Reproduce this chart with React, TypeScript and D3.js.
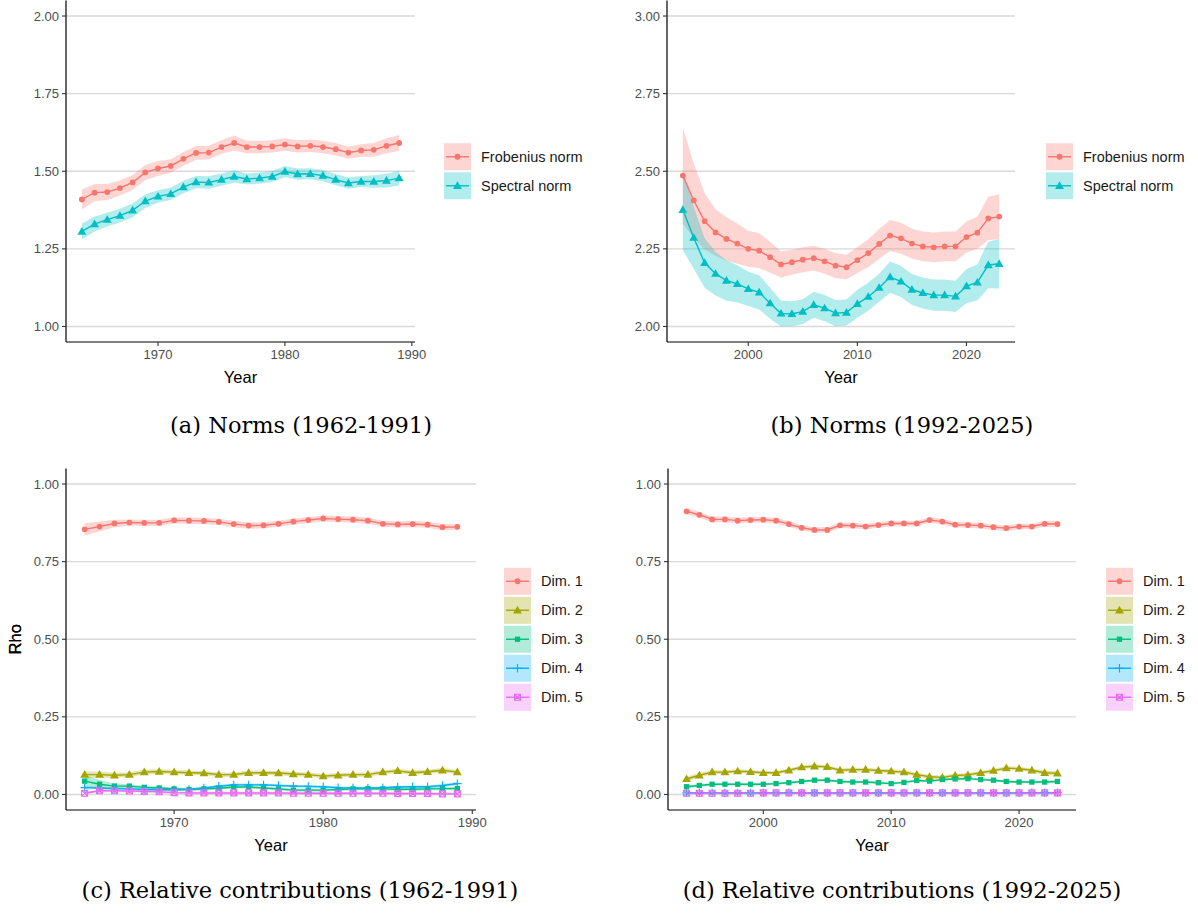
import React from "react";
import * as d3 from "d3";

// ---------- data ----------
const yearsEarly = d3.range(1964, 1990);
const yearsLate = d3.range(1994, 2024);

const frobeniusEarly = [1.409, 1.431, 1.433, 1.446, 1.464, 1.496, 1.509, 1.517, 1.540, 1.559, 1.560, 1.578, 1.591, 1.578, 1.578, 1.580, 1.586, 1.580, 1.582, 1.578, 1.571, 1.560, 1.567, 1.569, 1.582, 1.591];
const frobeniusEarlyBand = [0.032, 0.028, 0.026, 0.024, 0.024, 0.024, 0.024, 0.022, 0.022, 0.022, 0.022, 0.022, 0.024, 0.020, 0.020, 0.020, 0.020, 0.020, 0.020, 0.020, 0.020, 0.020, 0.020, 0.022, 0.024, 0.026];
const spectralEarly = [1.306, 1.330, 1.344, 1.357, 1.374, 1.404, 1.419, 1.427, 1.449, 1.465, 1.464, 1.473, 1.483, 1.475, 1.478, 1.483, 1.499, 1.491, 1.492, 1.486, 1.473, 1.462, 1.467, 1.467, 1.470, 1.478];
const spectralEarlyBand = [0.026, 0.024, 0.022, 0.022, 0.022, 0.022, 0.020, 0.020, 0.020, 0.020, 0.020, 0.020, 0.020, 0.018, 0.018, 0.018, 0.018, 0.018, 0.018, 0.018, 0.018, 0.018, 0.018, 0.020, 0.022, 0.024];

const frobeniusLate = [2.486, 2.406, 2.339, 2.303, 2.282, 2.267, 2.250, 2.244, 2.223, 2.200, 2.207, 2.215, 2.220, 2.210, 2.196, 2.191, 2.214, 2.236, 2.266, 2.293, 2.284, 2.267, 2.258, 2.255, 2.258, 2.258, 2.288, 2.302, 2.348, 2.354];
const frobeniusLateBand = [0.155, 0.12, 0.09, 0.075, 0.07, 0.065, 0.058, 0.056, 0.05, 0.042, 0.04, 0.04, 0.04, 0.04, 0.04, 0.04, 0.042, 0.045, 0.048, 0.05, 0.05, 0.048, 0.048, 0.048, 0.048, 0.048, 0.05, 0.052, 0.07, 0.072];
const spectralLate = [2.376, 2.286, 2.205, 2.170, 2.148, 2.137, 2.121, 2.110, 2.075, 2.042, 2.041, 2.048, 2.070, 2.059, 2.043, 2.045, 2.073, 2.096, 2.125, 2.159, 2.145, 2.119, 2.108, 2.101, 2.101, 2.097, 2.130, 2.142, 2.198, 2.202];
const spectralLateBand = [0.13, 0.1, 0.08, 0.07, 0.065, 0.06, 0.055, 0.055, 0.05, 0.042, 0.04, 0.04, 0.042, 0.042, 0.042, 0.042, 0.045, 0.045, 0.045, 0.05, 0.05, 0.05, 0.05, 0.05, 0.05, 0.05, 0.055, 0.058, 0.075, 0.08];

const dim1Early = [0.854, 0.863, 0.873, 0.876, 0.875, 0.875, 0.883, 0.882, 0.881, 0.878, 0.871, 0.866, 0.867, 0.872, 0.879, 0.884, 0.889, 0.887, 0.885, 0.882, 0.872, 0.870, 0.871, 0.869, 0.861, 0.862];
const dim2Early = [0.064, 0.064, 0.062, 0.064, 0.072, 0.074, 0.072, 0.070, 0.069, 0.064, 0.064, 0.070, 0.070, 0.069, 0.066, 0.064, 0.059, 0.062, 0.064, 0.064, 0.072, 0.076, 0.070, 0.073, 0.078, 0.072];
const dim3Early = [0.043, 0.033, 0.027, 0.027, 0.023, 0.021, 0.018, 0.016, 0.018, 0.020, 0.024, 0.024, 0.021, 0.018, 0.014, 0.014, 0.014, 0.016, 0.018, 0.019, 0.018, 0.017, 0.017, 0.018, 0.019, 0.019];
const dim4Early = [0.022, 0.021, 0.019, 0.018, 0.016, 0.015, 0.015, 0.016, 0.021, 0.027, 0.031, 0.031, 0.031, 0.029, 0.027, 0.026, 0.025, 0.022, 0.021, 0.020, 0.022, 0.024, 0.025, 0.025, 0.029, 0.035];
const dim5Early = [0.004, 0.012, 0.012, 0.011, 0.010, 0.009, 0.006, 0.005, 0.005, 0.005, 0.005, 0.005, 0.005, 0.005, 0.004, 0.004, 0.004, 0.004, 0.004, 0.004, 0.004, 0.003, 0.003, 0.003, 0.002, 0.002];
const dim1EarlyBand = [0.02, 0.016, 0.012, 0.01, 0.01, 0.01, 0.01, 0.01, 0.01, 0.01, 0.01, 0.01, 0.01, 0.01, 0.01, 0.01, 0.01, 0.01, 0.01, 0.01, 0.01, 0.01, 0.01, 0.01, 0.01, 0.01];
const dim2EarlyBand = [0.01, 0.01, 0.008, 0.008, 0.008, 0.008, 0.007, 0.007, 0.007, 0.007, 0.007, 0.007, 0.007, 0.007, 0.007, 0.007, 0.007, 0.007, 0.007, 0.007, 0.007, 0.007, 0.007, 0.007, 0.007, 0.007];
const dim3EarlyBand = [0.02, 0.014, 0.008, 0.006, 0.005, 0.005, 0.005, 0.005, 0.005, 0.005, 0.005, 0.005, 0.005, 0.005, 0.005, 0.005, 0.005, 0.005, 0.005, 0.005, 0.005, 0.005, 0.005, 0.005, 0.005, 0.005];
const dim4EarlyBand = [0.005, 0.004, 0.004, 0.004, 0.004, 0.004, 0.004, 0.004, 0.004, 0.004, 0.004, 0.004, 0.004, 0.004, 0.004, 0.004, 0.004, 0.004, 0.004, 0.004, 0.004, 0.004, 0.004, 0.004, 0.005, 0.006];
const dim5EarlyBand = [0.004, 0.004, 0.004, 0.004, 0.004, 0.004, 0.004, 0.004, 0.004, 0.004, 0.004, 0.004, 0.004, 0.004, 0.004, 0.004, 0.004, 0.004, 0.004, 0.004, 0.004, 0.004, 0.004, 0.004, 0.004, 0.004];

const dim1Late = [0.912, 0.901, 0.886, 0.886, 0.882, 0.884, 0.885, 0.882, 0.871, 0.859, 0.852, 0.852, 0.867, 0.866, 0.863, 0.868, 0.873, 0.873, 0.873, 0.884, 0.879, 0.869, 0.868, 0.866, 0.861, 0.858, 0.863, 0.863, 0.872, 0.871];
const dim2Late = [0.050, 0.062, 0.072, 0.072, 0.075, 0.073, 0.070, 0.070, 0.078, 0.088, 0.091, 0.089, 0.078, 0.080, 0.080, 0.077, 0.075, 0.072, 0.064, 0.057, 0.055, 0.061, 0.063, 0.070, 0.077, 0.085, 0.083, 0.078, 0.070, 0.068];
const dim3Late = [0.025, 0.029, 0.033, 0.033, 0.033, 0.033, 0.033, 0.035, 0.038, 0.042, 0.046, 0.046, 0.042, 0.040, 0.040, 0.038, 0.035, 0.039, 0.045, 0.043, 0.048, 0.050, 0.051, 0.048, 0.046, 0.042, 0.040, 0.040, 0.040, 0.042];
const dim4Late = [0.005, 0.005, 0.005, 0.005, 0.005, 0.005, 0.005, 0.005, 0.006, 0.005, 0.005, 0.005, 0.005, 0.005, 0.005, 0.005, 0.005, 0.005, 0.005, 0.005, 0.005, 0.005, 0.005, 0.005, 0.005, 0.005, 0.005, 0.006, 0.006, 0.006];
const dim5Late = [0.004, 0.004, 0.004, 0.004, 0.004, 0.004, 0.005, 0.005, 0.005, 0.005, 0.005, 0.005, 0.005, 0.005, 0.005, 0.005, 0.005, 0.005, 0.005, 0.005, 0.005, 0.005, 0.005, 0.005, 0.005, 0.005, 0.005, 0.005, 0.005, 0.005];
const dim1LateBand = [0.01, 0.01, 0.009, 0.009, 0.009, 0.009, 0.009, 0.009, 0.009, 0.009, 0.009, 0.009, 0.009, 0.009, 0.009, 0.009, 0.009, 0.009, 0.009, 0.009, 0.009, 0.009, 0.009, 0.009, 0.009, 0.009, 0.009, 0.009, 0.01, 0.01];
const dim2LateBand = [0.007, 0.007, 0.006, 0.006, 0.006, 0.006, 0.006, 0.006, 0.006, 0.006, 0.006, 0.006, 0.006, 0.006, 0.006, 0.006, 0.006, 0.006, 0.006, 0.006, 0.006, 0.006, 0.006, 0.006, 0.006, 0.006, 0.006, 0.006, 0.007, 0.007];
const dim3LateBand = [0.005, 0.005, 0.004, 0.004, 0.004, 0.004, 0.004, 0.004, 0.004, 0.004, 0.004, 0.004, 0.004, 0.004, 0.004, 0.004, 0.004, 0.004, 0.004, 0.004, 0.004, 0.004, 0.004, 0.004, 0.004, 0.004, 0.004, 0.004, 0.005, 0.005];
const dim4LateBand = [0.003, 0.003, 0.003, 0.003, 0.003, 0.003, 0.003, 0.003, 0.003, 0.003, 0.003, 0.003, 0.003, 0.003, 0.003, 0.003, 0.003, 0.003, 0.003, 0.003, 0.003, 0.003, 0.003, 0.003, 0.003, 0.003, 0.003, 0.003, 0.003, 0.003];
const dim5LateBand = dim4LateBand;

const normLabels = ["Frobenius norm", "Spectral norm"];
const dimLabels = ["Dim. 1", "Dim. 2", "Dim. 3", "Dim. 4", "Dim. 5"];
const normColors = ["#F8766D", "#00BFC4"];
const dimColors = ["#F8766D", "#A3A500", "#00BF7D", "#00B0F6", "#E76BF3"];
const normShapes = ["circle", "triangle"];
const dimShapes = ["circle", "triangle", "square", "plus", "squarex"];

const normTicksEarly = [1.0, 1.25, 1.5, 1.75, 2.0];
const normTicksLate = [2.0, 2.25, 2.5, 2.75, 3.0];
const rhoTicks = [0, 0.25, 0.5, 0.75, 1.0];
const yearTicksEarly = [1970, 1980, 1990];
const yearTicksLate = [2000, 2010, 2020];

const SANS = "Liberation Sans, Arial, sans-serif";
const SERIF = "DejaVu Serif, serif";

type Series = { label: string; color: string; shape: string; values: number[]; band: number[] };

function Marker({ shape, color, x, y }: { shape: string; color: string; x: number; y: number }) {
  const t = `translate(${x},${y})`;
  if (shape === "circle") {
    return <path transform={t} d={d3.symbol(d3.symbolCircle, 26)()!} fill={color} />;
  }
  if (shape === "triangle") {
    return <path transform={`translate(${x},${y + 0.6})`} d={d3.symbol(d3.symbolTriangle, 34)()!} fill={color} />;
  }
  if (shape === "square") {
    return <path transform={t} d={d3.symbol(d3.symbolSquare, 28)()!} fill={color} />;
  }
  if (shape === "plus") {
    return <path transform={t} d="M-4.2,0H4.2M0,-4.2V4.2" stroke={color} strokeWidth={1.1} fill="none" />;
  }
  // open square with a cross inside
  return <path transform={t} d="M-3,-3H3V3H-3Z M-3,-3L3,3 M3,-3L-3,3" stroke={color} strokeWidth={1.1} fill="none" />;
}

type PanelProps = {
  left: number; right: number; top: number; bottom: number;
  years: number[]; series: Series[];
  yDomain: [number, number]; yTicks: number[]; yFormat: (v: number) => string;
  xTicks: number[]; yLabel?: string;
  legendX: number; caption: string; captionX: number; captionY: number;
};

function Panel(p: PanelProps) {
  const x0 = p.years[0], x1 = p.years[p.years.length - 1];
  const xPad = (x1 - x0) * 0.05;
  const yPad = (p.yDomain[1] - p.yDomain[0]) * 0.05;
  const x = d3.scaleLinear().domain([x0 - xPad, x1 + xPad]).range([p.left, p.right]);
  const y = d3.scaleLinear().domain([p.yDomain[0] - yPad, p.yDomain[1] + yPad]).range([p.bottom, p.top]);

  const area = d3.area<number>()
    .x((_, i) => x(p.years[i]));
  const line = d3.line<number>().x((_, i) => x(p.years[i])).y((v) => y(v));

  const keySize = 27, keyGap = 2;
  const legendH = p.series.length * keySize + (p.series.length - 1) * keyGap;
  const legendTop = (p.top + p.bottom) / 2 - legendH / 2;

  return (
    <g>
      {/* horizontal grid */}
      {p.yTicks.map((t) => (
        <line key={"g" + t} x1={p.left} x2={p.right} y1={y(t)} y2={y(t)} stroke="#d9d9d9" strokeWidth={1.3} />
      ))}
      {/* ribbons */}
      {p.series.map((s) => (
        <path key={"r" + s.label}
          d={area.y0((v, i) => y(v - s.band[i])).y1((v, i) => y(v + s.band[i]))(s.values)!}
          fill={s.color} fillOpacity={0.3} stroke="none" />
      ))}
      {/* lines */}
      {p.series.map((s) => (
        <path key={"l" + s.label} d={line(s.values)!} fill="none" stroke={s.color} strokeWidth={1.4} />
      ))}
      {/* points */}
      {p.series.map((s) => (
        <g key={"p" + s.label}>
          {s.values.map((v, i) => (
            <Marker key={i} shape={s.shape} color={s.color} x={x(p.years[i])} y={y(v)} />
          ))}
        </g>
      ))}
      {/* axes */}
      <line x1={p.left} x2={p.left} y1={p.top} y2={p.bottom} stroke="#000" strokeWidth={1.2} />
      <line x1={p.left} x2={p.right} y1={p.bottom} y2={p.bottom} stroke="#000" strokeWidth={1.2} />
      {p.yTicks.map((t) => (
        <g key={"yt" + t}>
          <line x1={p.left - 4} x2={p.left} y1={y(t)} y2={y(t)} stroke="#333" strokeWidth={1.1} />
          <text x={p.left - 7} y={y(t)} dy="0.35em" textAnchor="end" fontFamily={SANS} fontSize={13} fill="#4D4D4D">
            {p.yFormat(t)}
          </text>
        </g>
      ))}
      {p.xTicks.map((t) => (
        <g key={"xt" + t}>
          <line x1={x(t)} x2={x(t)} y1={p.bottom} y2={p.bottom + 4} stroke="#333" strokeWidth={1.1} />
          <text x={x(t)} y={p.bottom + 17} textAnchor="middle" fontFamily={SANS} fontSize={13} fill="#4D4D4D">
            {t}
          </text>
        </g>
      ))}
      <text x={(p.left + p.right) / 2} y={p.bottom + 41} textAnchor="middle" fontFamily={SANS} fontSize={16.5} fill="#000">
        Year
      </text>
      {p.yLabel && (
        <text transform={`translate(${21},${(p.top + p.bottom) / 2}) rotate(-90)`} textAnchor="middle"
          fontFamily={SANS} fontSize={16.5} fill="#000">
          {p.yLabel}
        </text>
      )}
      {/* legend */}
      {p.series.map((s, i) => {
        const ky = legendTop + i * (keySize + keyGap);
        return (
          <g key={"k" + s.label}>
            <rect x={p.legendX} y={ky} width={keySize} height={keySize} fill={s.color} fillOpacity={0.3} />
            <line x1={p.legendX + 2} x2={p.legendX + keySize - 2} y1={ky + keySize / 2} y2={ky + keySize / 2}
              stroke={s.color} strokeWidth={1.4} />
            <Marker shape={s.shape} color={s.color} x={p.legendX + keySize / 2} y={ky + keySize / 2} />
            <text x={p.legendX + keySize + 10} y={ky + keySize / 2} dy="0.35em" fontFamily={SANS} fontSize={14.5} fill="#1a1a1a">
              {s.label}
            </text>
          </g>
        );
      })}
      <text x={p.captionX} y={p.captionY} textAnchor="middle" fontFamily={SERIF} fontSize={22.5} fill="#000">
        {p.caption}
      </text>
    </g>
  );
}

const fmt2 = (v: number) => v.toFixed(2);

function mk(labels: string[], colors: string[], shapes: string[], values: number[][], bands: number[][]): Series[] {
  return labels.map((label, i) => ({ label, color: colors[i], shape: shapes[i], values: values[i], band: bands[i] }));
}

export default function App() {
  const normsEarly = mk(normLabels, normColors, normShapes, [frobeniusEarly, spectralEarly], [frobeniusEarlyBand, spectralEarlyBand]);
  const normsLate = mk(normLabels, normColors, normShapes, [frobeniusLate, spectralLate], [frobeniusLateBand, spectralLateBand]);
  const dimsEarly = mk(dimLabels, dimColors, dimShapes,
    [dim1Early, dim2Early, dim3Early, dim4Early, dim5Early],
    [dim1EarlyBand, dim2EarlyBand, dim3EarlyBand, dim4EarlyBand, dim5EarlyBand]);
  const dimsLate = mk(dimLabels, dimColors, dimShapes,
    [dim1Late, dim2Late, dim3Late, dim4Late, dim5Late],
    [dim1LateBand, dim2LateBand, dim3LateBand, dim4LateBand, dim5LateBand]);

  return (
    <svg width={1198} height={913} style={{ position: "absolute", left: 0, top: 0, background: "#fff" }}>
      <rect width={1198} height={913} fill="#fff" />
      <Panel left={66} right={415} top={0.5} bottom={342} years={yearsEarly} series={normsEarly}
        yDomain={[1, 2]} yTicks={normTicksEarly} yFormat={fmt2} xTicks={yearTicksEarly}
        legendX={444} caption="(a) Norms (1962-1991)" captionX={301} captionY={433} />
      <Panel left={667} right={1015} top={0.5} bottom={342} years={yearsLate} series={normsLate}
        yDomain={[2, 3]} yTicks={normTicksLate} yFormat={fmt2} xTicks={yearTicksLate}
        legendX={1046} caption="(b) Norms (1992-2025)" captionX={902} captionY={433} />
      <Panel left={66} right={476} top={468.5} bottom={810} years={yearsEarly} series={dimsEarly}
        yDomain={[0, 1]} yTicks={rhoTicks} yFormat={fmt2} xTicks={yearTicksEarly} yLabel="Rho"
        legendX={504} caption="(c) Relative contributions (1962-1991)" captionX={300} captionY={898} />
      <Panel left={668} right={1076} top={468.5} bottom={810} years={yearsLate} series={dimsLate}
        yDomain={[0, 1]} yTicks={rhoTicks} yFormat={fmt2} xTicks={yearTicksLate} yLabel="Rho"
        legendX={1106} caption="(d) Relative contributions (1992-2025)" captionX={902} captionY={898} />
    </svg>
  );
}
